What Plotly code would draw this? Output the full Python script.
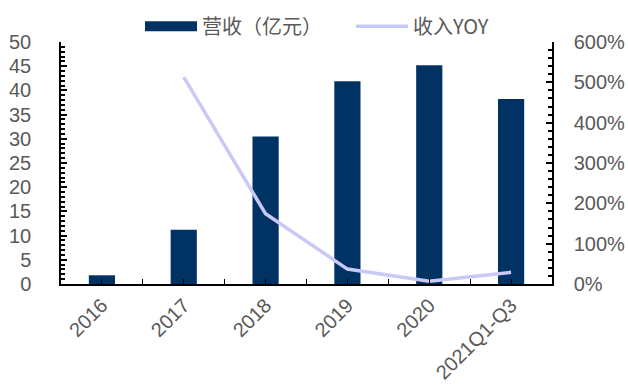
import plotly.graph_objects as go

categories = ["2016", "2017", "2018", "2019", "2020", "2021Q1-Q3"]
revenue = [1.8, 11.2, 30.5, 41.9, 45.2, 38.2]
yoy_years = ["2017", "2018", "2019", "2020", "2021Q1-Q3"]
yoy = [5.13, 1.74, 0.37, 0.07, 0.29]

idx = {c: i for i, c in enumerate(categories)}
font_fam = "Liberation Sans, Arial, Noto Sans CJK SC"
gray = "#595959"
bar_color = "#003264"
line_color = "#c9c9f7"

fig = go.Figure()
fig.add_trace(go.Bar(
    x=list(range(len(categories))), y=revenue, name="营收（亿元）",
    marker=dict(color=bar_color, line=dict(width=0)), width=0.32,
    showlegend=False,
))
# legend-only entry giving a wide swatch for the bar series
fig.add_trace(go.Scatter(
    x=[None], y=[None], name="营收（亿元）", mode="lines",
    line=dict(color=bar_color, width=12),
))
fig.add_trace(go.Scatter(
    x=[idx[c] for c in yoy_years], y=yoy, name="收入YOY", yaxis="y2",
    mode="lines", line=dict(color=line_color, width=3.5),
))

fig.update_layout(
    width=628, height=387,
    margin=dict(l=61, r=76, t=42, b=103, autoexpand=False),
    plot_bgcolor="white", paper_bgcolor="white",
    font=dict(family=font_fam, color=gray, size=20),
    showlegend=True,
    legend=dict(orientation="h", x=(140 - 61) / 491, xanchor="left", y=1.065, yanchor="middle",
                font=dict(size=20, color=gray, family="Noto Sans CJK SC, Liberation Sans"),
                itemwidth=52, entrywidth=144, entrywidthmode="pixels",
                bgcolor="rgba(0,0,0,0)"),
    xaxis=dict(
        range=[-0.5, len(categories) - 0.5],
        tickvals=list(range(len(categories))), ticktext=categories,
        tickangle=-45, tickfont=dict(size=20, color=gray),
        ticks="inside", ticklen=5, tickcolor="black",
        minor=dict(tickvals=[i - 0.5 for i in range(1, len(categories))],
                   ticks="inside", ticklen=5, tickcolor="black"),
        showline=True, linecolor="black", linewidth=1.5,
        showgrid=False, zeroline=False, automargin=False,
    ),
    yaxis=dict(
        range=[0, 50], dtick=5, tickfont=dict(size=20, color=gray),
        ticks="inside", ticklen=6, tickcolor="black", tickwidth=1.5,
        minor=dict(dtick=1, ticks="inside", ticklen=4, tickcolor="black"),
        showline=True, linecolor="black", linewidth=1.5,
        showgrid=False, zeroline=False, ticklabelstandoff=24, automargin=False,
    ),
    yaxis2=dict(
        range=[0, 6], dtick=1, tickformat=".0%", overlaying="y", side="right",
        tickfont=dict(size=20, color=gray),
        ticks="inside", ticklen=6, tickcolor="black", tickwidth=1.5,
        minor=dict(dtick=0.2, ticks="inside", ticklen=4, tickcolor="black"),
        showline=True, linecolor="black", linewidth=1.5,
        showgrid=False, zeroline=False, ticklabelstandoff=16, automargin=False,
    ),
)

fig.write_html("out.html")
